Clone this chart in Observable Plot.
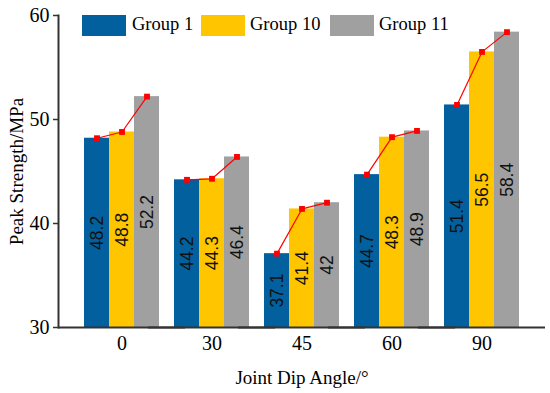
<!DOCTYPE html>
<html>
<head>
<meta charset="utf-8">
<script src="https://cdn.jsdelivr.net/npm/d3@7"></script>
<script src="https://cdn.jsdelivr.net/npm/@observablehq/plot@0.6"></script>
<style>
  body { margin: 0; background: #fff; }
  #wrap { position: relative; width: 550px; height: 393px; }
  .leg { position: absolute; font-family: "Liberation Serif", "Times New Roman", serif; font-size: 18.5px; color: #000; line-height: 21px; }
  .sw { position: absolute; width: 44px; height: 21px; top: 15px; }
</style>
</head>
<body>
<div id="wrap"></div>
<script>
const categories = ["0", "30", "45", "60", "90"];
const groups = ["Group 1", "Group 10", "Group 11"];
const group1 = [48.2, 44.2, 37.1, 44.7, 51.4];
const group10 = [48.8, 44.3, 41.4, 48.3, 56.5];
const group11 = [52.2, 46.4, 42, 48.9, 58.4];
const colors = ["#03609E", "#FFC600", "#A0A0A0"];
const yTicks = [30, 40, 50, 60];
const xTitle = "Joint Dip Angle/°";
const yTitle = "Peak Strength/MPa";

const series = [group1, group10, group11];
const data = [];
categories.forEach((c, i) => {
  groups.forEach((g, j) => data.push({cat: c, group: g, value: series[j][i]}));
});

const serif = "Liberation Serif, Times New Roman, serif";
const sans = "Liberation Sans, Arial, sans-serif";

const W = 550, ML = 57, MR = 5;
const padIn = 0.147, padOut = 0.277;
const step = (W - ML - MR) / (categories.length - padIn + 2 * padOut);
const axisShift = -padOut * step;

const chart = Plot.plot({
  width: W,
  height: 393,
  marginLeft: ML,
  marginRight: MR,
  marginTop: 15,
  marginBottom: 66,
  style: {fontFamily: serif, background: "white", overflow: "visible"},
  fx: {domain: categories, paddingInner: padIn, paddingOuter: padOut, label: null},
  x: {domain: groups, padding: 0, axis: null},
  y: {domain: [30, 60], axis: null},
  color: {domain: groups, range: colors},
  marks: [
    Plot.barY(data, {fx: "cat", x: "group", y1: 30, y2: "value", fill: "group"}),
    Plot.text(data, {fx: "cat", x: "group", y: d => (d.value + 30) / 2, text: d => String(d.value), rotate: -90, fontSize: 17.5, fontFamily: sans, fill: "#111"}),
    Plot.line(data, {fx: "cat", x: "group", y: "value", z: "cat", stroke: "#FF0000", strokeWidth: 1.2}),
    Plot.dot(data, {fx: "cat", x: "group", y: "value", symbol: "square", r: 3.3, fill: "#FF0000", stroke: "none"}),
    Plot.ruleY([30], {insetLeft: axisShift, insetRight: axisShift, stroke: "#333", strokeWidth: 2}),
    Plot.axisFx({anchor: "bottom", tickSize: 0, tickPadding: 8, fontSize: 20, label: null, fill: "#000"}),
    Plot.axisY({anchor: "left", facetAnchor: "left", dx: axisShift, ticks: yTicks, tickSize: 5, tickPadding: 4, fontSize: 20, label: null, tickFormat: d => String(d), stroke: "#333", strokeWidth: 1.5, fill: "#000"}),
    Plot.frame({facet: "super", anchor: "left", dx: axisShift, stroke: "#333", strokeWidth: 2}),
    Plot.text([xTitle], {facet: "super", frameAnchor: "bottom", dy: 56, fontSize: 19, fontFamily: serif, fill: "#000"}),
    Plot.text([yTitle], {facet: "super", frameAnchor: "left", textAnchor: "middle", rotate: -90, dx: axisShift - 42, fontSize: 19, fontFamily: serif, fill: "#000"})
  ]
});

const wrap = document.getElementById("wrap");
wrap.appendChild(chart);

// legend overlay
const legendPos = [[82, 132], [201, 250], [330, 379]];
groups.forEach((g, i) => {
  const sw = document.createElement("div");
  sw.className = "sw";
  sw.style.left = legendPos[i][0] + "px";
  sw.style.background = colors[i];
  wrap.appendChild(sw);
  const t = document.createElement("div");
  t.className = "leg";
  t.style.left = legendPos[i][1] + "px";
  t.style.top = "14px";
  t.textContent = g;
  wrap.appendChild(t);
});
</script>
</body>
</html>
